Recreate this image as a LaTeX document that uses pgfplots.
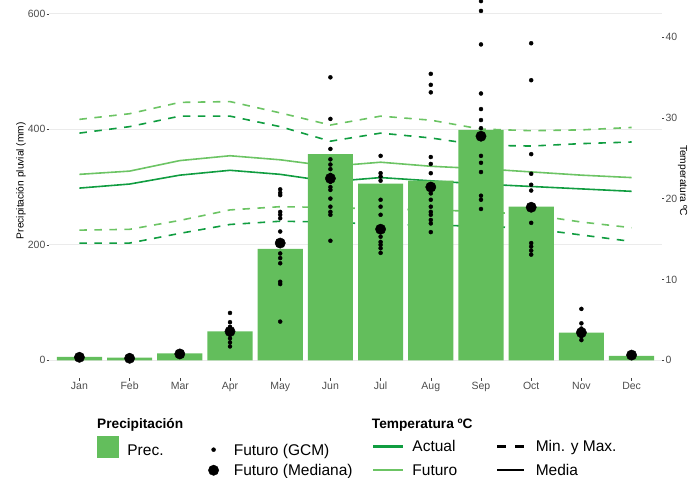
\documentclass[border=0pt]{standalone}
\usepackage{fontspec}
\setmainfont{Liberation Sans}
\usepackage{pgfplots}
\usepackage{pgfplotstable}
\pgfplotsset{compat=1.18}

\definecolor{barcol}{RGB}{99,190,92}
\definecolor{actcol}{RGB}{16,157,64}
\definecolor{futcol}{RGB}{108,196,100}
\definecolor{gridcol}{RGB}{235,235,235}
\definecolor{tickcol}{RGB}{77,77,77}

\pgfplotstableread{
m prec med
1 6 5.2
2 4.5 3.5
3 12 11
4 50 50
5 193 203
6 357 315
7 306 227
8 311 300
9 399 388
10 266 265
11 48 48
12 7.5 9
}\prectab

\pgfplotstableread{
m amean fmean amax fmax amin fmin
1 21.3 23.0 28.1 29.8 14.5 16.1
2 21.8 23.4 28.9 30.5 14.5 16.2
3 22.9 24.7 30.2 31.9 15.7 17.3
4 23.5 25.3 30.2 32.0 16.8 18.6
5 23.0 24.8 28.9 30.6 17.2 19.0
6 22.1 24.0 27.1 29.1 17.1 18.9
7 22.6 24.5 28.1 30.2 16.8 18.7
8 22.2 24.0 27.5 29.7 16.7 18.6
9 21.8 23.7 26.6 28.6 16.6 18.4
10 21.5 23.3 26.5 28.4 16.3 18.0
11 21.2 22.9 26.8 28.5 15.5 17.1
12 20.9 22.6 27.0 28.8 14.7 16.4
}\temptab

\pgfplotstableread{
m v
1 3
1 4
1 7
1 8
2 2
2 3
2 5
3 8
3 13
3 15
4 82
4 66
4 58
4 44
4 38
4 31
4 24
5 296
5 290
5 286
5 257
5 252
5 246
5 223
5 185
5 177
5 168
5 136
5 132
5 67
6 490
6 418
6 366
6 348
6 339
6 331
6 321
6 309
6 300
6 295
6 280
6 266
6 257
6 252
6 207
7 354
7 324
7 318
7 311
7 278
7 266
7 252
7 214
7 205
7 200
7 194
7 186
8 496
8 477
8 464
8 352
8 340
8 324
8 289
8 278
8 266
8 257
8 252
8 243
8 237
8 222
9 622
9 605
9 547
9 462
9 435
9 416
9 402
9 354
9 342
9 326
9 285
9 278
9 262
10 549
10 485
10 357
10 323
10 304
10 294
10 238
10 203
10 197
10 190
10 183
11 89
11 64
11 55
11 41
11 35
12 6
12 8
12 11
12 12
}\gcmtab

\pgfplotsset{
  basestyle/.style={
    scale only axis, width=612.4bp, height=395bp,
    at={(49.3bp,99.8bp)}, anchor=south west,
    xmin=0.4, xmax=12.6,
    axis line style={draw=none},
    tick style={draw=black!75, line width=0.5bp},
    major tick length=2.7bp,
    tick align=outside,
    ticklabel style={font=\fontsize{10.5bp}{12bp}\selectfont, text=tickcol},
    /pgf/number format/assume math mode=true,
    clip=false,
    legend columns=2,
    legend cell align=left,
    legend style={draw=none, fill=none, inner sep=0pt, outer sep=0pt,
      anchor=north west,
      /tikz/column sep=0pt, /tikz/row sep=0pt,
      /tikz/every even column/.style={column sep=0pt},
      /tikz/every odd column/.style={column sep=0pt},
      nodes={inner sep=0pt, outer sep=0pt, text height=13bp, text depth=1.9bp,
        font=\fontsize{15.5bp}{18bp}\selectfont}},
  },
  tline/.style={line width=1.6bp},
  tdash/.style={line width=1.6bp, dash pattern=on 7.5bp off 7.5bp},
}

\begin{document}
\begin{tikzpicture}
% precipitation axis (left)
\begin{axis}[basestyle,
  ymin=-31, ymax=653,
  xtick={1,...,12},
  xticklabels={Jan,Feb,Mar,Apr,May,Jun,Jul,Aug,Sep,Oct,Nov,Dec},
  ytick={0,200,400,600},
  tick pos=left,
  ymajorgrids, grid style={gridcol, line width=0.8bp},
  yticklabel style={inner sep=1pt},
  xticklabel style={inner sep=1pt, text height=7.6bp, text depth=2.2bp},
  ylabel={Precipitación pluvial (mm)},
  every axis y label/.style={at={(axis description cs:-0.0462,0.5)}, rotate=90,
    anchor=center, font=\fontsize{10.2bp}{12bp}\selectfont},
  legend style={at={(rel axis cs:0.0774,-0.1455)}},
]
\addplot[forget plot, futcol, tdash] table[x=m, y expr=\thisrow{fmax}*14] {\temptab};
\addplot[forget plot, futcol, tdash] table[x=m, y expr=\thisrow{fmin}*14] {\temptab};
\addplot[forget plot, futcol, tline] table[x=m, y expr=\thisrow{fmean}*14] {\temptab};
\addplot[forget plot, actcol, tdash] table[x=m, y expr=\thisrow{amax}*14] {\temptab};
\addplot[forget plot, actcol, tdash] table[x=m, y expr=\thisrow{amin}*14] {\temptab};
\addplot[forget plot, actcol, tline] table[x=m, y expr=\thisrow{amean}*14] {\temptab};
\addplot[forget plot, ybar, bar width=0.9, bar shift=0pt, fill=barcol, draw=none]
  table[x=m, y=prec] {\prectab};
\addplot[forget plot, only marks, mark=*, mark size=2bp, mark options={draw=none, fill=black}]
  table[x=m, y=v] {\gcmtab};
\addplot[forget plot, only marks, mark=*, mark size=5.2bp, mark options={draw=none, fill=black}]
  table[x=m, y=med] {\prectab};
% legend (precipitation)
\addlegendimage{legend image code/.code={\fill[barcol] (0bp,-7.8bp) rectangle (21.6bp,13.8bp); \path (0bp,-10.1bp) (30.3bp,10.1bp);}}
\addlegendentry{\makebox[73bp][l]{Prec.}}
\addlegendimage{legend image code/.code={\fill[black] (13bp,0bp) circle (2bp); \path (0bp,-10.1bp) (33bp,10.1bp);}}
\addlegendentry{Futuro (GCM)}
\addlegendimage{legend image code/.code={\path (0bp,-10.1bp) (30.3bp,10.1bp);}}
\addlegendentry{\makebox[73bp][l]{}}
\addlegendimage{legend image code/.code={\fill[black] (13bp,0bp) circle (5.2bp); \path (0bp,-10.1bp) (33bp,10.1bp);}}
\addlegendentry{Futuro (Mediana)}
\end{axis}
% temperature axis (right)
\begin{axis}[basestyle,
  ymin=-2.2143, ymax=46.643,
  xtick=\empty,
  ytick={0,10,20,30,40},
  ytick pos=right, yticklabel pos=right,
  yticklabel style={inner sep=1pt},
  ylabel={Temperatura ºC},
  every axis y label/.style={at={(axis description cs:1.0340,0.5)}, rotate=-90,
    anchor=center, font=\fontsize{10.2bp}{12bp}\selectfont},
  legend style={at={(rel axis cs:0.5286,-0.1425)}},
]
\addlegendimage{legend image code/.code={\fill[actcol] (0bp,-0.8bp) rectangle (29bp,0.8bp); \path (0bp,-11.5bp) (39bp,11.5bp);}}
\addlegendentry{\makebox[85bp][l]{Actual}}
\addlegendimage{legend image code/.code={\fill[black] (0bp,-0.8bp) rectangle (8bp,0.8bp); \fill[black] (18bp,-0.8bp) rectangle (26bp,0.8bp); \path (0bp,-11.5bp) (38bp,11.5bp);}}
\addlegendentry{Min. y Max.}
\addlegendimage{legend image code/.code={\fill[futcol] (0bp,-0.8bp) rectangle (29bp,0.8bp); \path (0bp,-11.5bp) (39bp,11.5bp);}}
\addlegendentry{\makebox[85bp][l]{Futuro}}
\addlegendimage{legend image code/.code={\fill[black] (0bp,-0.8bp) rectangle (26bp,0.8bp); \path (0bp,-11.5bp) (38bp,11.5bp);}}
\addlegendentry{Media}
\node[anchor=west, inner sep=0pt, text height=9.8bp, text depth=0pt,
  font=\bfseries\fontsize{13.7bp}{16bp}\selectfont] at (rel axis cs:0.0779,-0.1159) {Precipitación};
\node[anchor=west, inner sep=0pt, text height=9.8bp, text depth=0pt,
  font=\bfseries\fontsize{13.7bp}{16bp}\selectfont] at (rel axis cs:0.5265,-0.1159) {Temperatura ºC};
\end{axis}
\pgfresetboundingbox
\path[use as bounding box] (0bp,0bp) rectangle (696bp,478bp);
\end{tikzpicture}
\end{document}
